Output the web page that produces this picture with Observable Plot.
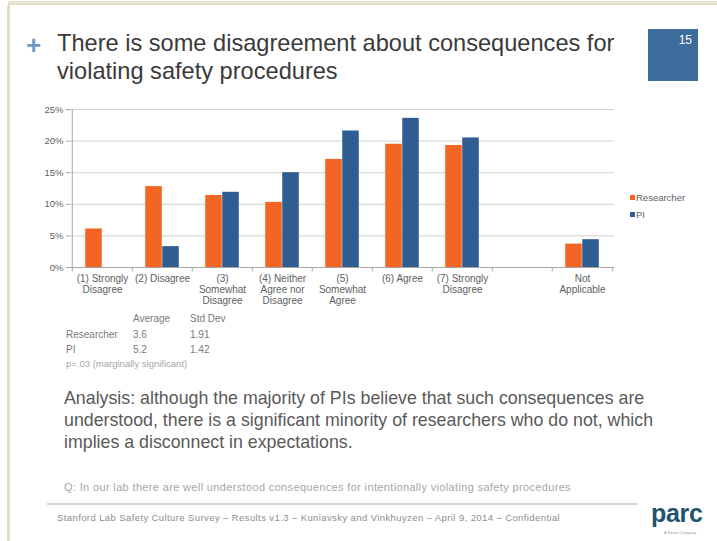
<!DOCTYPE html>
<html><head><meta charset="utf-8">
<script src="https://cdn.jsdelivr.net/npm/d3@7"></script>
<script src="https://cdn.jsdelivr.net/npm/@observablehq/plot@0.6"></script>
<style>
body{margin:0;background:#fff;font-family:"Liberation Sans",Arial,sans-serif;}
#page{position:relative;width:717px;height:541px;overflow:hidden;background:#fff;}
.abs{position:absolute;white-space:nowrap;}
#chart{position:absolute;left:0;top:100px;}
</style></head><body><div id="page">
<div class="abs" style="left:8px;top:1px;width:709px;height:4px;background:#e3ddc6;"></div>
<div class="abs" style="left:8px;top:2px;width:709px;height:1px;background:#f1eee2;"></div>
<div class="abs" style="left:7px;top:5px;width:3px;height:536px;background:#e3ddc6;"></div>
<div class="abs" style="left:26px;top:30px;font-size:26px;font-weight:bold;color:#6d9bc8;">+</div>
<div class="abs" id="title" style="left:57px;top:29px;font-size:23.6px;line-height:28px;color:#3a3a3a;"></div>
<div class="abs" style="left:648px;top:29px;width:50px;height:52px;background:#3b6c9c;"></div>
<div class="abs" id="pagenum" style="left:648px;top:33px;width:44px;text-align:right;font-size:12px;color:#fff;"></div>
<div id="chart"></div>
<div id="legend"></div>
<div id="stats"></div>
<div class="abs" id="analysis" style="left:64px;top:387px;font-size:17.8px;line-height:22px;color:#5a5a5a;"></div>
<div class="abs" id="question" style="left:64px;top:481px;font-size:11px;letter-spacing:0.35px;color:#a6a6a6;"></div>
<div class="abs" style="left:47px;top:503px;width:590px;height:2px;background:#d6d6d6;"></div>
<div class="abs" id="footer" style="left:57px;top:512px;font-size:9.5px;letter-spacing:0.4px;color:#8c8c8c;"></div>
<div class="abs" style="left:651px;top:499px;font-size:25px;font-weight:bold;color:#1d5470;letter-spacing:-0.3px;">parc</div>
<div class="abs" style="left:664px;top:530px;font-size:4px;color:#999;">A Xerox Company</div>
</div>
<script>
const titleLines = ["There is some disagreement about consequences for", "violating safety procedures"];
const pageNumber = "15";
const categories = ["(1) Strongly\nDisagree", "(2) Disagree", "(3)\nSomewhat\nDisagree", "(4) Neither\nAgree nor\nDisagree", "(5)\nSomewhat\nAgree", "(6) Agree", "(7) Strongly\nDisagree", " ", "Not\nApplicable"];
const seriesNames = ["Researcher", "PI"];
const researcher = [6.1, 12.8, 11.4, 10.3, 17.1, 19.5, 19.3, null, 3.7];
const pi = [0, 3.3, 11.9, 15.0, 21.6, 23.6, 20.5, null, 4.4];
const yTicks = [0, 5, 10, 15, 20, 25];
const statHeaders = ["Average", "Std Dev"];
const statRows = ["Researcher", "PI"];
const averages = ["3.6", "5.2"];
const stdDevs = ["1.91", "1.42"];
const pNote = "p=.03 (marginally significant)";
const analysisLines = ["Analysis: although the majority of PIs believe that such consequences are", "understood, there is a significant minority of researchers who do not, which", "implies a disconnect in expectations."];
const question = "Q: In our lab there are well understood consequences for intentionally  violating safety procedures";
const footer = "Stanford Lab Safety Culture Survey –  Results v1.3 – Kuniavsky and Vinkhuyzen – April 9, 2014 – Confidential";
const colors = ["#f26522", "#2f5d92"];

document.getElementById("title").innerHTML = titleLines.join("<br>");
document.getElementById("pagenum").textContent = pageNumber;
document.getElementById("analysis").innerHTML = analysisLines.join("<br>");
document.getElementById("question").textContent = question;
document.getElementById("footer").textContent = footer;

const W = 717, ML = 70, MR = 103;
const bw = (W - ML - MR) / categories.length;
const barW = 17;
const outer = (bw - 2 * barW) / 2;

const rows = [];
categories.forEach((c, i) => {
  if (researcher[i] != null) rows.push({cat: c, series: seriesNames[0], value: researcher[i]});
  if (pi[i] != null) rows.push({cat: c, series: seriesNames[1], value: pi[i]});
});

const axisColor = "#a6a6a6";
const chart = Plot.plot({
  width: W, height: 210,
  marginLeft: ML, marginRight: MR, marginTop: 9, marginBottom: 43,
  x: {type: "band", domain: categories, padding: 0},
  y: {domain: [0, 25]},
  style: {fontFamily: '"Liberation Sans", Arial, sans-serif', fontSize: "10px", background: "transparent", overflow: "visible"},
  marks: [
    Plot.ruleY(yTicks.slice(1), {stroke: "#d0d0d0", strokeWidth: 1}),
    Plot.barY(rows.filter(d => d.series === seriesNames[0]), {x: "cat", y: "value", fill: colors[0], insetLeft: outer, insetRight: outer + barW}),
    Plot.barY(rows.filter(d => d.series === seriesNames[1]), {x: "cat", y: "value", fill: colors[1], insetLeft: outer + barW, insetRight: outer}),
    Plot.ruleY([0], {stroke: axisColor}),
    Plot.ruleX([categories[0]], {dx: -bw / 2, y1: 0, y2: 25, stroke: axisColor}),
    Plot.ruleX(categories, {dx: -bw / 2, y1: 0, y2: -0.7, stroke: axisColor}),
    Plot.ruleX([categories[categories.length - 1]], {dx: bw / 2, y1: 0, y2: -0.7, stroke: axisColor}),
    Plot.axisY({ticks: yTicks, tickSize: 4, tickPadding: 3, tickFormat: d => d + "%", stroke: axisColor, fill: "#606060", fontSize: 9.5, label: null}),
    Plot.axisX({tickSize: 0, tickPadding: 7, lineHeight: 1.1, fill: "#606060", label: null})
  ]
});
document.getElementById("chart").appendChild(chart);

const leg = document.getElementById("legend");
seriesNames.forEach((s, i) => {
  const y = 192 + i * 17;
  leg.insertAdjacentHTML("beforeend",
    `<div class="abs" style="left:630px;top:${y + 3}px;width:5px;height:5px;background:${colors[i]};"></div>` +
    `<div class="abs" style="left:636px;top:${y}px;font-size:9.5px;color:#606060;">${s}</div>`);
});

const st = document.getElementById("stats");
const c1 = 133, c2 = 190, c0 = 66;
const statStyle = "font-size:10px;color:#7a7a7a;";
statHeaders.forEach((h, j) => st.insertAdjacentHTML("beforeend", `<div class="abs" style="left:${[c1, c2][j]}px;top:313px;${statStyle}">${h}</div>`));
statRows.forEach((r, i) => {
  const y = 329 + i * 15;
  st.insertAdjacentHTML("beforeend",
    `<div class="abs" style="left:${c0}px;top:${y}px;${statStyle}">${r}</div>` +
    `<div class="abs" style="left:${c1}px;top:${y}px;${statStyle}">${averages[i]}</div>` +
    `<div class="abs" style="left:${c2}px;top:${y}px;${statStyle}">${stdDevs[i]}</div>`);
});
st.insertAdjacentHTML("beforeend", `<div class="abs" style="left:${c0}px;top:358px;font-size:9.5px;color:#a6a6a6;">${pNote}</div>`);
</script>
</body></html>
